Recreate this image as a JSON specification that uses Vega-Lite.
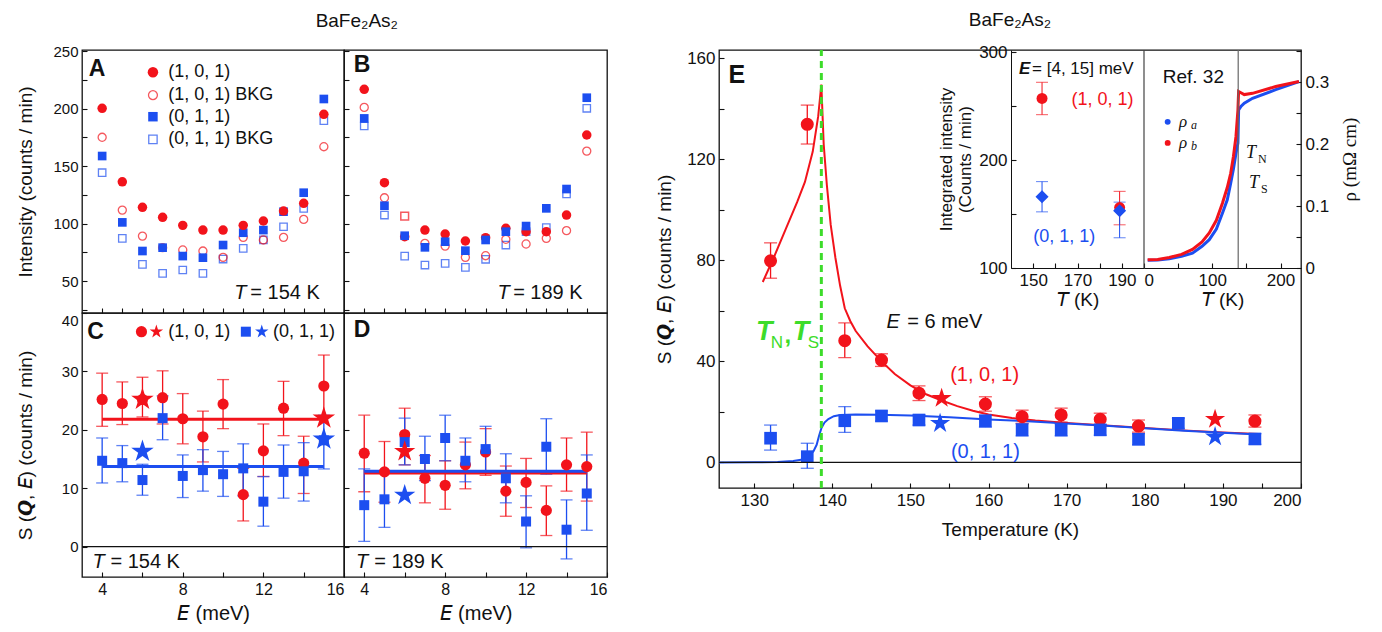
{
"$schema": "https://vega.github.io/schema/vega-lite/v6.json",
"background": "white",
"padding": {"left": 15, "top": 10, "right": 5, "bottom": 5},
"config": {
  "font": "Liberation Sans",
  "view": {"stroke": "#111", "strokeWidth": 1.3},
  "axis": {"grid": false, "domain": false, "labelOverlap": false, "tickColor": "#111", "tickSize": -5, "tickWidth": 1.1, "labelColor": "#111", "labelFont": "Liberation Sans", "labelFontSize": 15, "titleFont": "Liberation Sans", "titleFontWeight": "normal", "titleFontSize": 19, "titleColor": "#111", "labelPadding": 9},
  "title": {"font": "Liberation Sans", "fontWeight": "normal", "fontSize": 19, "color": "#111"}
},
"datasets": {
  "A": [
    {"E":4,"s":"r","v":200.2},{"E":5,"s":"r","v":136.3},{"E":6,"s":"r","v":114.1},{"E":7,"s":"r","v":105.4},{"E":8,"s":"r","v":98.4},{"E":9,"s":"r","v":94.3},{"E":10,"s":"r","v":94.3},{"E":11,"s":"r","v":98.4},{"E":12,"s":"r","v":102.2},{"E":13,"s":"r","v":110.9},{"E":14,"s":"r","v":117.6},{"E":15,"s":"r","v":195},
    {"E":4,"s":"rb","v":175},{"E":5,"s":"rb","v":111.7},{"E":6,"s":"rb","v":89.1},{"E":7,"s":"rb","v":79},{"E":8,"s":"rb","v":77},{"E":9,"s":"rb","v":76.1},{"E":10,"s":"rb","v":70.6},{"E":11,"s":"rb","v":88},{"E":12,"s":"rb","v":85.7},{"E":13,"s":"rb","v":88},{"E":14,"s":"rb","v":103.6},{"E":15,"s":"rb","v":166.8},
    {"E":4,"s":"b","v":158.7},{"E":5,"s":"b","v":101},{"E":6,"s":"b","v":76.1},{"E":7,"s":"b","v":79},{"E":8,"s":"b","v":71.7},{"E":9,"s":"b","v":70.3},{"E":10,"s":"b","v":81.3},{"E":11,"s":"b","v":92},{"E":12,"s":"b","v":94.3},{"E":13,"s":"b","v":110.3},{"E":14,"s":"b","v":126.8},{"E":15,"s":"b","v":208.3},
    {"E":4,"s":"bb","v":144.2},{"E":5,"s":"bb","v":87.1},{"E":6,"s":"bb","v":64.5},{"E":7,"s":"bb","v":56.7},{"E":8,"s":"bb","v":59.6},{"E":9,"s":"bb","v":56.7},{"E":10,"s":"bb","v":69.1},{"E":11,"s":"bb","v":78.4},{"E":12,"s":"bb","v":85.7},{"E":13,"s":"bb","v":97.2},{"E":14,"s":"bb","v":113.2},{"E":15,"s":"bb","v":189.4}
  ],
  "B": [
    {"E":4,"s":"r","v":216.7},{"E":5,"s":"r","v":135.5},{"E":6,"s":"r","v":88.6},{"E":7,"s":"r","v":94.3},{"E":8,"s":"r","v":90.9},{"E":9,"s":"r","v":84.8},{"E":10,"s":"r","v":87.7},{"E":11,"s":"r","v":95.8},{"E":12,"s":"r","v":92.9},{"E":13,"s":"r","v":92.9},{"E":14,"s":"r","v":107.4},{"E":15,"s":"r","v":177},
    {"E":4,"s":"rb","v":201},{"E":5,"s":"rb","v":122.4},{"E":6,"s":"rb","v":106.5},{"E":7,"s":"rb","v":82.8},{"E":8,"s":"rb","v":80.4},{"E":9,"s":"rb","v":70.6},{"E":10,"s":"rb","v":72},{"E":11,"s":"rb","v":86.3},{"E":12,"s":"rb","v":82.2},{"E":13,"s":"rb","v":87.1},{"E":14,"s":"rb","v":93.8},{"E":15,"s":"rb","v":163},
    {"E":4,"s":"b","v":191.4},{"E":5,"s":"b","v":115.5},{"E":6,"s":"b","v":89.4},{"E":7,"s":"b","v":79.3},{"E":8,"s":"b","v":84.2},{"E":9,"s":"b","v":76.4},{"E":10,"s":"b","v":85.7},{"E":11,"s":"b","v":92.9},{"E":12,"s":"b","v":97.8},{"E":13,"s":"b","v":113.2},{"E":14,"s":"b","v":130},{"E":15,"s":"b","v":209.4},
    {"E":4,"s":"bb","v":184.8},{"E":5,"s":"bb","v":107.4},{"E":6,"s":"bb","v":71.7},{"E":7,"s":"bb","v":63.9},{"E":8,"s":"bb","v":65.4},{"E":9,"s":"bb","v":61.9},{"E":10,"s":"bb","v":68.9},{"E":11,"s":"bb","v":81.3},{"E":12,"s":"bb","v":92.9},{"E":13,"s":"bb","v":96.4},{"E":14,"s":"bb","v":125.7},{"E":15,"s":"bb","v":200.2}
  ],
  "C": [
    {"E":4,"s":"r","v":25.2,"lo":20.6,"hi":29.7},{"E":5,"s":"r","v":24.5,"lo":20.9,"hi":28.2},{"E":6,"s":"r","v":25.2,"lo":22.2,"hi":29.0},{"E":7,"s":"r","v":25.5,"lo":21.0,"hi":30.1},{"E":8,"s":"r","v":21.9,"lo":17.6,"hi":26.2},{"E":9,"s":"r","v":18.8,"lo":14.5,"hi":23.2},{"E":10,"s":"r","v":24.4,"lo":20.2,"hi":28.6},{"E":11,"s":"r","v":8.9,"lo":4.4,"hi":13.4},{"E":12,"s":"r","v":16.4,"lo":12.0,"hi":21.0},{"E":13,"s":"r","v":23.7,"lo":19.0,"hi":28.3},{"E":14,"s":"r","v":14.3,"lo":9.1,"hi":18.9},{"E":15,"s":"r","v":27.5,"lo":22.4,"hi":32.8},
    {"E":4,"s":"b","v":14.7,"lo":10.9,"hi":18.6},{"E":5,"s":"b","v":14.3,"lo":11.1,"hi":17.3},{"E":6,"s":"b","v":11.4,"lo":8.8,"hi":14.1},{"E":7,"s":"b","v":22.0,"lo":18.3,"hi":25.8},{"E":8,"s":"b","v":12.1,"lo":8.4,"hi":15.7},{"E":9,"s":"b","v":13.1,"lo":9.5,"hi":16.6},{"E":10,"s":"b","v":12.4,"lo":8.6,"hi":16.3},{"E":11,"s":"b","v":13.4,"lo":8.7,"hi":17.6},{"E":12,"s":"b","v":7.7,"lo":3.5,"hi":12.0},{"E":13,"s":"b","v":12.8,"lo":8.3,"hi":17.4},{"E":14,"s":"b","v":12.9,"lo":7.8,"hi":17.8},{"E":15,"s":"b","v":18.2,"lo":13.3,"hi":22.5}
  ],
  "Cs": [{"E":6,"s":"r","v":25.2},{"E":15,"s":"r","v":22.0},{"E":6,"s":"b","v":16.3},{"E":15,"s":"b","v":18.4}],
  "Cl": [{"E":4,"s":"r","v":21.8},{"E":15,"s":"r","v":21.8},{"E":4,"s":"b","v":13.7},{"E":15,"s":"b","v":13.7}],
  "D": [
    {"E":4,"s":"r","v":16.0,"lo":9.4,"hi":22.5},{"E":5,"s":"r","v":12.8,"lo":7.6,"hi":18.0},{"E":6,"s":"r","v":19.2,"lo":14.0,"hi":23.7},{"E":7,"s":"r","v":11.7,"lo":7.5,"hi":15.6},{"E":8,"s":"r","v":10.5,"lo":6.4,"hi":14.7},{"E":9,"s":"r","v":14.0,"lo":9.9,"hi":17.9},{"E":10,"s":"r","v":16.2,"lo":12.2,"hi":20.2},{"E":11,"s":"r","v":9.5,"lo":5.2,"hi":13.8},{"E":12,"s":"r","v":11.0,"lo":6.7,"hi":15.1},{"E":13,"s":"r","v":6.2,"lo":1.9,"hi":10.4},{"E":14,"s":"r","v":14.0,"lo":9.5,"hi":18.6},{"E":15,"s":"r","v":13.7,"lo":7.8,"hi":19.6},
    {"E":4,"s":"b","v":7.1,"lo":0.9,"hi":13.3},{"E":5,"s":"b","v":8.1,"lo":3.3,"hi":12.8},{"E":6,"s":"b","v":17.9,"lo":14.0,"hi":22.0},{"E":7,"s":"b","v":15.0,"lo":11.3,"hi":18.9},{"E":8,"s":"b","v":18.6,"lo":14.7,"hi":22.5},{"E":9,"s":"b","v":14.7,"lo":11.1,"hi":18.6},{"E":10,"s":"b","v":16.7,"lo":12.7,"hi":20.6},{"E":11,"s":"b","v":11.7,"lo":7.5,"hi":15.9},{"E":12,"s":"b","v":4.3,"lo":-0.2,"hi":8.7},{"E":13,"s":"b","v":17.1,"lo":12.4,"hi":21.9},{"E":14,"s":"b","v":2.9,"lo":-2.1,"hi":8.0},{"E":15,"s":"b","v":9.1,"lo":2.8,"hi":15.7}
  ],
  "Ds": [{"E":6,"s":"r","v":16.3},{"E":6,"s":"b","v":8.8}],
  "Dl": [{"E":4,"s":"r","v":12.6},{"E":15,"s":"r","v":12.6},{"E":4,"s":"b","v":12.9},{"E":15,"s":"b","v":12.9}],
  "E": [
    {"T":132.1,"s":"r","v":79.8,"lo":72.9,"hi":86.9},{"T":136.8,"s":"r","v":133.8,"lo":126.0,"hi":141.4},{"T":141.6,"s":"r","v":48.2,"lo":41.5,"hi":55.2},{"T":146.3,"s":"r","v":40.5,"lo":38.0,"hi":43.0},{"T":151.1,"s":"r","v":27.4,"lo":24.5,"hi":30.3},{"T":159.6,"s":"r","v":23.1,"lo":20.3,"hi":26.0},{"T":164.3,"s":"r","v":18.1,"lo":15.5,"hi":20.7},{"T":169.3,"s":"r","v":18.8,"lo":16.0,"hi":21.5},{"T":174.3,"s":"r","v":17.1,"lo":14.7,"hi":19.5},{"T":179.2,"s":"r","v":14.4,"lo":12.0,"hi":16.8},{"T":194.1,"s":"r","v":16.4,"lo":14.0,"hi":18.8},
    {"T":132.1,"s":"b","v":9.6,"lo":4.9,"hi":14.8},{"T":136.8,"s":"b","v":2.3,"lo":-2.3,"hi":7.6},{"T":141.6,"s":"b","v":16.5,"lo":11.9,"hi":22.1},{"T":146.3,"s":"b","v":18.4,"lo":16.4,"hi":20.4},{"T":151.1,"s":"b","v":16.8,"lo":14.8,"hi":18.8},{"T":159.6,"s":"b","v":16.4,"lo":14.0,"hi":18.8},{"T":164.3,"s":"b","v":12.9,"lo":10.5,"hi":15.3},{"T":169.3,"s":"b","v":12.9,"lo":10.5,"hi":15.3},{"T":174.3,"s":"b","v":12.9,"lo":10.8,"hi":15.0},{"T":179.2,"s":"b","v":9.2,"lo":7.0,"hi":11.4},{"T":184.3,"s":"b","v":15.5,"lo":13.5,"hi":17.5},{"T":194.1,"s":"b","v":9.3,"lo":7.2,"hi":11.4}
  ],
  "Es": [{"T":154.0,"s":"r","v":25.4},{"T":189.0,"s":"r","v":17.1},{"T":153.8,"s":"b","v":15.5},{"T":189.0,"s":"b","v":10.2}],
  "Ef": [
    {"T":131.1,"s":"r","v":71.4},{"T":132.5,"s":"r","v":81},{"T":134,"s":"r","v":92},{"T":135.5,"s":"r","v":103},{"T":136.5,"s":"r","v":111},{"T":137.5,"s":"r","v":123},{"T":138.2,"s":"r","v":137},{"T":138.6,"s":"r","v":149.5},{"T":138.9,"s":"r","v":126},{"T":139.3,"s":"r","v":110},{"T":139.8,"s":"r","v":94},{"T":140.4,"s":"r","v":81},{"T":141,"s":"r","v":70},{"T":141.6,"s":"r","v":61},{"T":142.3,"s":"r","v":56},{"T":143,"s":"r","v":52},{"T":144.5,"s":"r","v":46},{"T":146.3,"s":"r","v":40},{"T":148,"s":"r","v":35},{"T":150,"s":"r","v":30.5},{"T":152,"s":"r","v":27},{"T":154,"s":"r","v":24.5},{"T":156,"s":"r","v":22.3},{"T":158,"s":"r","v":20.5},{"T":160,"s":"r","v":19},{"T":163,"s":"r","v":17.6},{"T":166,"s":"r","v":16.6},{"T":170,"s":"r","v":15.6},{"T":175,"s":"r","v":14.6},{"T":180,"s":"r","v":13.6},{"T":185,"s":"r","v":12.7},{"T":190,"s":"r","v":11.9},{"T":194.6,"s":"r","v":11.3},
    {"T":125.5,"s":"b","v":0},{"T":130,"s":"b","v":0.05},{"T":133,"s":"b","v":0.2},{"T":135,"s":"b","v":0.6},{"T":136.2,"s":"b","v":1.2},{"T":137,"s":"b","v":2.5},{"T":137.6,"s":"b","v":4.5},{"T":138,"s":"b","v":7},{"T":138.3,"s":"b","v":10.5},{"T":138.6,"s":"b","v":13.5},{"T":139,"s":"b","v":15.8},{"T":139.5,"s":"b","v":17.2},{"T":140.2,"s":"b","v":18.3},{"T":141,"s":"b","v":18.8},{"T":143,"s":"b","v":19},{"T":146,"s":"b","v":18.9},{"T":150,"s":"b","v":18.6},{"T":155,"s":"b","v":17.9},{"T":160,"s":"b","v":17},{"T":165,"s":"b","v":16.3},{"T":170,"s":"b","v":15.4},{"T":175,"s":"b","v":14.5},{"T":180,"s":"b","v":13.5},{"T":185,"s":"b","v":12.6},{"T":190,"s":"b","v":11.8},{"T":194.6,"s":"b","v":11.1}
  ],
  "I": [
    {"T":154,"s":"r","v":257,"lo":242,"hi":272},{"T":189,"s":"r","v":156,"lo":140,"hi":171},
    {"T":154,"s":"b","v":166,"lo":152,"hi":180},{"T":189,"s":"b","v":153,"lo":128,"hi":161}
  ],
  "R": [
    {"T":5.4,"s":"b","rho":0.0124},{"T":20,"s":"b","rho":0.013},{"T":37,"s":"b","rho":0.015},{"T":55,"s":"b","rho":0.019},{"T":71,"s":"b","rho":0.024},{"T":85,"s":"b","rho":0.035},{"T":95.6,"s":"b","rho":0.0457},{"T":106,"s":"b","rho":0.063},{"T":115,"s":"b","rho":0.0887},{"T":122,"s":"b","rho":0.11},{"T":127,"s":"b","rho":0.137},{"T":131,"s":"b","rho":0.16},{"T":134.7,"s":"b","rho":0.185},{"T":137.6,"s":"b","rho":0.2016},{"T":138.6,"s":"b","rho":0.255},{"T":142,"s":"b","rho":0.261},{"T":146.9,"s":"b","rho":0.266},{"T":159,"s":"b","rho":0.274},{"T":193,"s":"b","rho":0.288},{"T":227,"s":"b","rho":0.301},
    {"T":5.4,"s":"r","rho":0.0134},{"T":20,"s":"r","rho":0.0138},{"T":37,"s":"r","rho":0.017},{"T":55,"s":"r","rho":0.022},{"T":71,"s":"r","rho":0.03},{"T":85,"s":"r","rho":0.042},{"T":95.6,"s":"r","rho":0.0565},{"T":106,"s":"r","rho":0.077},{"T":115,"s":"r","rho":0.105},{"T":122,"s":"r","rho":0.13},{"T":127,"s":"r","rho":0.153},{"T":131,"s":"r","rho":0.18},{"T":134.7,"s":"r","rho":0.212},{"T":137.6,"s":"r","rho":0.255},{"T":138.6,"s":"r","rho":0.285},{"T":142,"s":"r","rho":0.283},{"T":146.9,"s":"r","rho":0.28},{"T":159,"s":"r","rho":0.282},{"T":193,"s":"r","rho":0.293},{"T":227,"s":"r","rho":0.301}
  ]
},
"spacing": 45,
"hconcat": [
 {
  "title": {"text": "BaFe₂As₂", "anchor": "middle", "frame": "bounds", "dx": 45, "offset": 12},
  "columns": 2,
  "spacing": 0,
  "bounds": "flush",
  "concat": [
   {
    "width": 262, "height": 263,
    "resolve": {"axis": {"x": "independent", "y": "independent"}},
    "layer": [
     {
      "data": {"name": "A"},
      "encoding": {
        "x": {"field": "E", "type": "quantitative", "scale": {"domain": [3, 16], "nice": false, "zero": false}, "axis": {"orient": "bottom", "values": [4,5,6,7,8,9,10,11,12,13,14,15], "labels": false, "title": null}},
        "y": {"field": "v", "type": "quantitative", "scale": {"domain": [22.2, 250.9], "nice": false, "zero": false}, "axis": {"orient": "left", "values": [25,50,75,100,125,150,175,200,225,250], "labelExpr": "datum.value % 50 === 0 ? datum.label : ''", "labelOverlap": false, "title": "Intensity (counts / min)", "minExtent": 30, "maxExtent": 30, "titlePadding": 17}}
      },
      "layer": [
        {"transform": [{"filter": "datum.s === 'bb'"}], "mark": {"type": "point", "shape": "square", "filled": false, "color": "#1c4ef0", "strokeWidth": 1.3, "size": 55}},
        {"transform": [{"filter": "datum.s === 'rb'"}], "mark": {"type": "point", "shape": "circle", "filled": false, "color": "#f2131b", "strokeWidth": 1.3, "size": 65}},
        {"transform": [{"filter": "datum.s === 'b'"}], "mark": {"type": "point", "shape": "square", "filled": true, "color": "#1c4ef0", "opacity": 1, "size": 75}},
        {"transform": [{"filter": "datum.s === 'r'"}], "mark": {"type": "point", "shape": "circle", "filled": true, "color": "#f2131b", "opacity": 1, "size": 90}}
      ]
     },
     {
      "layer": [
        {"data": {"values": [{"k": 1}]}, "mark": {"type": "point", "shape": "circle", "filled": true, "color": "#f2131b", "opacity": 1, "size": 110}, "encoding": {"x": {"datum": 6.52, "type": "quantitative", "axis": null}, "y": {"datum": 231.5, "type": "quantitative", "axis": null}}},
        {"data": {"values": [{"k": 1}]}, "mark": {"type": "point", "shape": "circle", "filled": false, "color": "#f2131b", "strokeWidth": 1.3, "size": 80}, "encoding": {"x": {"datum": 6.52, "type": "quantitative", "axis": null}, "y": {"datum": 211.7, "type": "quantitative", "axis": null}}},
        {"data": {"values": [{"k": 1}]}, "mark": {"type": "point", "shape": "square", "filled": true, "color": "#1c4ef0", "opacity": 1, "size": 90}, "encoding": {"x": {"datum": 6.52, "type": "quantitative", "axis": null}, "y": {"datum": 192.9, "type": "quantitative", "axis": null}}},
        {"data": {"values": [{"k": 1}]}, "mark": {"type": "point", "shape": "square", "filled": false, "color": "#1c4ef0", "strokeWidth": 1.3, "size": 70}, "encoding": {"x": {"datum": 6.52, "type": "quantitative", "axis": null}, "y": {"datum": 173.2, "type": "quantitative", "axis": null}}},
        {"data": {"values": [{"k": 1}]}, "mark": {"type": "text", "text": "(1, 0, 1)", "fontSize": 18, "align": "left", "baseline": "middle", "color": "#111"}, "encoding": {"x": {"datum": 7.28, "type": "quantitative", "axis": null}, "y": {"datum": 231.5, "type": "quantitative", "axis": null}}},
        {"data": {"values": [{"k": 1}]}, "mark": {"type": "text", "text": "(1, 0, 1) BKG", "fontSize": 18, "align": "left", "baseline": "middle", "color": "#111"}, "encoding": {"x": {"datum": 7.28, "type": "quantitative", "axis": null}, "y": {"datum": 211.7, "type": "quantitative", "axis": null}}},
        {"data": {"values": [{"k": 1}]}, "mark": {"type": "text", "text": "(0, 1, 1)", "fontSize": 18, "align": "left", "baseline": "middle", "color": "#111"}, "encoding": {"x": {"datum": 7.28, "type": "quantitative", "axis": null}, "y": {"datum": 192.9, "type": "quantitative", "axis": null}}},
        {"data": {"values": [{"k": 1}]}, "mark": {"type": "text", "text": "(0, 1, 1) BKG", "fontSize": 18, "align": "left", "baseline": "middle", "color": "#111"}, "encoding": {"x": {"datum": 7.28, "type": "quantitative", "axis": null}, "y": {"datum": 173.2, "type": "quantitative", "axis": null}}},
        {"data": {"values": [{"k": 1}]}, "mark": {"type": "text", "text": "A", "fontSize": 23, "fontWeight": "bold", "align": "center", "baseline": "middle", "color": "#111"}, "encoding": {"x": {"datum": 3.75, "type": "quantitative", "axis": null}, "y": {"datum": 234.3, "type": "quantitative", "axis": null}}},
        {"data": {"values": [{"k": 1}]}, "mark": {"type": "text", "text": "T", "fontSize": 20, "fontStyle": "italic", "align": "center", "baseline": "middle", "color": "#111"}, "encoding": {"x": {"datum": 10.86, "type": "quantitative", "axis": null}, "y": {"datum": 39.6, "type": "quantitative", "axis": null}}},
        {"data": {"values": [{"k": 1}]}, "mark": {"type": "text", "text": "= 154 K", "fontSize": 20, "align": "left", "baseline": "middle", "color": "#111"}, "encoding": {"x": {"datum": 11.35, "type": "quantitative", "axis": null}, "y": {"datum": 39.6, "type": "quantitative", "axis": null}}}
      ]
     }
    ]
   },
   {
    "width": 263, "height": 263,
    "resolve": {"axis": {"x": "independent", "y": "independent"}},
    "layer": [
     {
      "data": {"name": "B"},
      "encoding": {
        "x": {"field": "E", "type": "quantitative", "scale": {"domain": [3, 16], "nice": false, "zero": false}, "axis": {"orient": "bottom", "values": [4,5,6,7,8,9,10,11,12,13,14,15], "labels": false, "title": null}},
        "y": {"field": "v", "type": "quantitative", "scale": {"domain": [22.2, 250.9], "nice": false, "zero": false}, "axis": {"orient": "left", "values": [25,50,75,100,125,150,175,200,225,250], "labels": false, "title": null}}
      },
      "layer": [
        {"transform": [{"filter": "datum.s === 'bb'"}], "mark": {"type": "point", "shape": "square", "filled": false, "color": "#1c4ef0", "strokeWidth": 1.3, "size": 55}},
        {"transform": [{"filter": "datum.s === 'rb' && datum.E !== 6"}], "mark": {"type": "point", "shape": "circle", "filled": false, "color": "#f2131b", "strokeWidth": 1.3, "size": 65}},
        {"transform": [{"filter": "datum.s === 'rb' && datum.E === 6"}], "mark": {"type": "point", "shape": "square", "filled": false, "color": "#f2131b", "strokeWidth": 1.5, "size": 60}},
        {"transform": [{"filter": "datum.s === 'r'"}], "mark": {"type": "point", "shape": "circle", "filled": true, "color": "#f2131b", "opacity": 1, "size": 90}},
        {"transform": [{"filter": "datum.s === 'b'"}], "mark": {"type": "point", "shape": "square", "filled": true, "color": "#1c4ef0", "opacity": 1, "size": 75}}
      ]
     },
     {
      "layer": [
        {"data": {"values": [{"k": 1}]}, "mark": {"type": "text", "text": "B", "fontSize": 23, "fontWeight": "bold", "align": "center", "baseline": "middle", "color": "#111"}, "encoding": {"x": {"datum": 3.89, "type": "quantitative", "axis": null}, "y": {"datum": 237.8, "type": "quantitative", "axis": null}}},
        {"data": {"values": [{"k": 1}]}, "mark": {"type": "text", "text": "T", "fontSize": 20, "fontStyle": "italic", "align": "center", "baseline": "middle", "color": "#111"}, "encoding": {"x": {"datum": 10.89, "type": "quantitative", "axis": null}, "y": {"datum": 39.6, "type": "quantitative", "axis": null}}},
        {"data": {"values": [{"k": 1}]}, "mark": {"type": "text", "text": "= 189 K", "fontSize": 20, "align": "left", "baseline": "middle", "color": "#111"}, "encoding": {"x": {"datum": 11.36, "type": "quantitative", "axis": null}, "y": {"datum": 39.6, "type": "quantitative", "axis": null}}}
      ]
     }
    ]
   },
   {
    "width": 262, "height": 264,
    "layer": [
     {
      "data": {"name": "C"},
      "encoding": {
        "x": {"field": "E", "type": "quantitative", "scale": {"domain": [3, 16], "nice": false, "zero": false}, "axis": {"values": [4,5,6,7,8,9,10,11,12,13,14,15,16], "labelExpr": "datum.value % 4 === 0 ? datum.label : ''", "labelFlush": 1, "labelFontSize": 16, "title": "𝘌 (meV)", "titleFontSize": 20, "titlePadding": 6}},
        "y": {"field": "v", "type": "quantitative", "scale": {"domain": [-5.2, 40], "nice": false, "zero": false}, "axis": {"values": [0,5,10,15,20,25,30,35,40], "labelExpr": "datum.value % 10 === 0 ? datum.label : ''", "labelFlush": 1, "title": "S (𝙌, 𝘌) (counts / min)", "minExtent": 30, "maxExtent": 30, "titlePadding": 17}}
      },
      "layer": [
        {"transform": [{"filter": "datum.s === 'r'"}], "mark": {"type": "rule", "color": "#f2131b", "strokeWidth": 1.3}, "encoding": {"y": {"field": "lo", "type": "quantitative"}, "y2": {"field": "hi"}}},
        {"transform": [{"filter": "datum.s === 'r'"}, {"fold": ["lo", "hi"], "as": ["k", "cap"]}], "mark": {"type": "tick", "orient": "horizontal", "color": "#f2131b", "size": 12, "thickness": 1.3}, "encoding": {"y": {"field": "cap", "type": "quantitative"}}},
        {"transform": [{"filter": "datum.s === 'b'"}], "mark": {"type": "rule", "color": "#1c4ef0", "strokeWidth": 1.3}, "encoding": {"y": {"field": "lo", "type": "quantitative"}, "y2": {"field": "hi"}}},
        {"transform": [{"filter": "datum.s === 'b'"}, {"fold": ["lo", "hi"], "as": ["k", "cap"]}], "mark": {"type": "tick", "orient": "horizontal", "color": "#1c4ef0", "size": 12, "thickness": 1.3}, "encoding": {"y": {"field": "cap", "type": "quantitative"}}},
        {"data": {"name": "Cl"}, "transform": [{"filter": "datum.s === 'r'"}], "mark": {"type": "line", "color": "#f2131b", "strokeWidth": 3}},
        {"data": {"name": "Cl"}, "transform": [{"filter": "datum.s === 'b'"}], "mark": {"type": "line", "color": "#1c4ef0", "strokeWidth": 3}},
        {"transform": [{"filter": "datum.s === 'r'"}], "mark": {"type": "point", "shape": "circle", "filled": true, "color": "#f2131b", "opacity": 1, "size": 125}},
        {"transform": [{"filter": "datum.s === 'b'"}], "mark": {"type": "point", "shape": "square", "filled": true, "color": "#1c4ef0", "opacity": 1, "size": 100}},
        {"data": {"name": "Cs"}, "transform": [{"filter": "datum.s === 'r'"}], "mark": {"type": "point", "shape": "M0,-1L0.2245,-0.309L0.951,-0.309L0.363,0.118L0.588,0.809L0,0.382L-0.588,0.809L-0.363,0.118L-0.951,-0.309L-0.2245,-0.309Z", "filled": true, "color": "#f2131b", "opacity": 1, "size": 560}},
        {"data": {"name": "Cs"}, "transform": [{"filter": "datum.s === 'b'"}], "mark": {"type": "point", "shape": "M0,-1L0.2245,-0.309L0.951,-0.309L0.363,0.118L0.588,0.809L0,0.382L-0.588,0.809L-0.363,0.118L-0.951,-0.309L-0.2245,-0.309Z", "filled": true, "color": "#1c4ef0", "opacity": 1, "size": 560}}
      ]
     },
     {
      "layer": [
        {"data": {"values": [{"k": 1}]}, "mark": {"type": "rule", "color": "#111", "strokeWidth": 1.2}, "encoding": {"x": {"datum": 3, "type": "quantitative"}, "x2": {"datum": 16}, "y": {"datum": 0, "type": "quantitative"}}},
        {"data": {"values": [{"k": 1}]}, "mark": {"type": "point", "shape": "circle", "filled": true, "color": "#f2131b", "opacity": 1, "size": 125}, "encoding": {"x": {"datum": 5.95, "type": "quantitative"}, "y": {"datum": 36.8, "type": "quantitative"}}},
        {"data": {"values": [{"k": 1}]}, "mark": {"type": "point", "shape": "M0,-1L0.2245,-0.309L0.951,-0.309L0.363,0.118L0.588,0.809L0,0.382L-0.588,0.809L-0.363,0.118L-0.951,-0.309L-0.2245,-0.309Z", "filled": true, "color": "#f2131b", "opacity": 1, "size": 200}, "encoding": {"x": {"datum": 6.69, "type": "quantitative"}, "y": {"datum": 36.8, "type": "quantitative"}}},
        {"data": {"values": [{"k": 1}]}, "mark": {"type": "text", "text": "(1, 0, 1)", "fontSize": 18, "align": "left", "baseline": "middle", "color": "#111"}, "encoding": {"x": {"datum": 7.28, "type": "quantitative"}, "y": {"datum": 36.8, "type": "quantitative"}}},
        {"data": {"values": [{"k": 1}]}, "mark": {"type": "point", "shape": "square", "filled": true, "color": "#1c4ef0", "opacity": 1, "size": 100}, "encoding": {"x": {"datum": 11.13, "type": "quantitative"}, "y": {"datum": 36.8, "type": "quantitative"}}},
        {"data": {"values": [{"k": 1}]}, "mark": {"type": "point", "shape": "M0,-1L0.2245,-0.309L0.951,-0.309L0.363,0.118L0.588,0.809L0,0.382L-0.588,0.809L-0.363,0.118L-0.951,-0.309L-0.2245,-0.309Z", "filled": true, "color": "#1c4ef0", "opacity": 1, "size": 200}, "encoding": {"x": {"datum": 11.92, "type": "quantitative"}, "y": {"datum": 36.8, "type": "quantitative"}}},
        {"data": {"values": [{"k": 1}]}, "mark": {"type": "text", "text": "(0, 1, 1)", "fontSize": 18, "align": "left", "baseline": "middle", "color": "#111"}, "encoding": {"x": {"datum": 12.48, "type": "quantitative"}, "y": {"datum": 36.8, "type": "quantitative"}}},
        {"data": {"values": [{"k": 1}]}, "mark": {"type": "text", "text": "C", "fontSize": 23, "fontWeight": "bold", "align": "center", "baseline": "middle", "color": "#111"}, "encoding": {"x": {"datum": 3.67, "type": "quantitative"}, "y": {"datum": 36.7, "type": "quantitative"}}},
        {"data": {"values": [{"k": 1}]}, "mark": {"type": "text", "text": "T", "fontSize": 20, "fontStyle": "italic", "align": "center", "baseline": "middle", "color": "#111"}, "encoding": {"x": {"datum": 3.82, "type": "quantitative"}, "y": {"datum": -2.6, "type": "quantitative"}}},
        {"data": {"values": [{"k": 1}]}, "mark": {"type": "text", "text": "= 154 K", "fontSize": 20, "align": "left", "baseline": "middle", "color": "#111"}, "encoding": {"x": {"datum": 4.41, "type": "quantitative"}, "y": {"datum": -2.6, "type": "quantitative"}}}
      ]
     }
    ]
   },
   {
    "width": 263, "height": 264,
    "layer": [
     {
      "data": {"name": "D"},
      "encoding": {
        "x": {"field": "E", "type": "quantitative", "scale": {"domain": [3, 16], "nice": false, "zero": false}, "axis": {"values": [4,5,6,7,8,9,10,11,12,13,14,15,16], "labelExpr": "datum.value % 4 === 0 ? datum.label : ''", "labelFlush": 1, "labelFontSize": 16, "title": "𝘌 (meV)", "titleFontSize": 20, "titlePadding": 6}},
        "y": {"field": "v", "type": "quantitative", "scale": {"domain": [-5.2, 40], "nice": false, "zero": false}, "axis": {"values": [0,5,10,15,20,25,30,35,40], "labels": false, "title": null}}
      },
      "layer": [
        {"transform": [{"filter": "datum.s === 'r'"}], "mark": {"type": "rule", "color": "#f2131b", "strokeWidth": 1.3}, "encoding": {"y": {"field": "lo", "type": "quantitative"}, "y2": {"field": "hi"}}},
        {"transform": [{"filter": "datum.s === 'r'"}, {"fold": ["lo", "hi"], "as": ["k", "cap"]}], "mark": {"type": "tick", "orient": "horizontal", "color": "#f2131b", "size": 12, "thickness": 1.3}, "encoding": {"y": {"field": "cap", "type": "quantitative"}}},
        {"transform": [{"filter": "datum.s === 'b'"}], "mark": {"type": "rule", "color": "#1c4ef0", "strokeWidth": 1.3}, "encoding": {"y": {"field": "lo", "type": "quantitative"}, "y2": {"field": "hi"}}},
        {"transform": [{"filter": "datum.s === 'b'"}, {"fold": ["lo", "hi"], "as": ["k", "cap"]}], "mark": {"type": "tick", "orient": "horizontal", "color": "#1c4ef0", "size": 12, "thickness": 1.3}, "encoding": {"y": {"field": "cap", "type": "quantitative"}}},
        {"data": {"name": "Dl"}, "transform": [{"filter": "datum.s === 'r'"}], "mark": {"type": "line", "color": "#f2131b", "strokeWidth": 3}},
        {"data": {"name": "Dl"}, "transform": [{"filter": "datum.s === 'b'"}], "mark": {"type": "line", "color": "#1c4ef0", "strokeWidth": 3}},
        {"transform": [{"filter": "datum.s === 'r'"}], "mark": {"type": "point", "shape": "circle", "filled": true, "color": "#f2131b", "opacity": 1, "size": 125}},
        {"transform": [{"filter": "datum.s === 'b'"}], "mark": {"type": "point", "shape": "square", "filled": true, "color": "#1c4ef0", "opacity": 1, "size": 100}},
        {"data": {"name": "Ds"}, "transform": [{"filter": "datum.s === 'r'"}], "mark": {"type": "point", "shape": "M0,-1L0.2245,-0.309L0.951,-0.309L0.363,0.118L0.588,0.809L0,0.382L-0.588,0.809L-0.363,0.118L-0.951,-0.309L-0.2245,-0.309Z", "filled": true, "color": "#f2131b", "opacity": 1, "size": 500}},
        {"data": {"name": "Ds"}, "transform": [{"filter": "datum.s === 'b'"}], "mark": {"type": "point", "shape": "M0,-1L0.2245,-0.309L0.951,-0.309L0.363,0.118L0.588,0.809L0,0.382L-0.588,0.809L-0.363,0.118L-0.951,-0.309L-0.2245,-0.309Z", "filled": true, "color": "#1c4ef0", "opacity": 1, "size": 500}}
      ]
     },
     {
      "layer": [
        {"data": {"values": [{"k": 1}]}, "mark": {"type": "rule", "color": "#111", "strokeWidth": 1.2}, "encoding": {"x": {"datum": 3, "type": "quantitative"}, "x2": {"datum": 16}, "y": {"datum": 0, "type": "quantitative"}}},
        {"data": {"values": [{"k": 1}]}, "mark": {"type": "text", "text": "D", "fontSize": 23, "fontWeight": "bold", "align": "center", "baseline": "middle", "color": "#111"}, "encoding": {"x": {"datum": 3.89, "type": "quantitative"}, "y": {"datum": 37.1, "type": "quantitative"}}},
        {"data": {"values": [{"k": 1}]}, "mark": {"type": "text", "text": "T", "fontSize": 20, "fontStyle": "italic", "align": "center", "baseline": "middle", "color": "#111"}, "encoding": {"x": {"datum": 3.9, "type": "quantitative"}, "y": {"datum": -2.6, "type": "quantitative"}}},
        {"data": {"values": [{"k": 1}]}, "mark": {"type": "text", "text": "= 189 K", "fontSize": 20, "align": "left", "baseline": "middle", "color": "#111"}, "encoding": {"x": {"datum": 4.49, "type": "quantitative"}, "y": {"datum": -2.6, "type": "quantitative"}}}
      ]
     }
    ]
   }
  ]
 },
 {
  "width": 582, "height": 438,
  "title": {"text": "BaFe₂As₂", "anchor": "middle", "frame": "group", "offset": 12},
  "resolve": {"scale": {"x": "independent", "y": "independent"}},
  "layer": [
   {
    "layer": [
     {
      "data": {"name": "E"},
      "encoding": {
        "x": {"field": "T", "type": "quantitative", "scale": {"domain": [125.5, 200], "nice": false, "zero": false}, "axis": {"orient": "bottom", "values": [130,135,140,145,150,155,160,165,170,175,180,185,190,195,200], "labelExpr": "datum.value % 10 === 0 ? datum.label : ''", "title": "Temperature (K)", "labelFontSize": 17, "titleFontSize": 19, "titlePadding": 12}},
        "y": {"field": "v", "type": "quantitative", "scale": {"domain": [-10.1, 163.2], "nice": false, "zero": false}, "axis": {"orient": "left", "values": [0,20,40,60,80,100,120,140,160], "labelExpr": "datum.value % 40 === 0 ? datum.label : ''", "title": "S (𝙌, 𝘌) (counts / min)", "labelFontSize": 17, "titleFontSize": 19, "minExtent": 35, "maxExtent": 35, "titlePadding": 10}}
      },
      "layer": [
        {"data": {"name": "Ef"}, "transform": [{"filter": "datum.s === 'r'"}], "mark": {"type": "line", "color": "#f2131b", "strokeWidth": 2}},
        {"data": {"name": "Ef"}, "transform": [{"filter": "datum.s === 'b'"}], "mark": {"type": "line", "color": "#1c4ef0", "strokeWidth": 2}},
        {"transform": [{"filter": "datum.s === 'r'"}], "mark": {"type": "rule", "color": "#f2131b", "strokeWidth": 1.3}, "encoding": {"y": {"field": "lo", "type": "quantitative"}, "y2": {"field": "hi"}}},
        {"transform": [{"filter": "datum.s === 'r'"}, {"fold": ["lo", "hi"], "as": ["k", "cap"]}], "mark": {"type": "tick", "orient": "horizontal", "color": "#f2131b", "size": 13, "thickness": 1.3}, "encoding": {"y": {"field": "cap", "type": "quantitative"}}},
        {"transform": [{"filter": "datum.s === 'b'"}], "mark": {"type": "rule", "color": "#1c4ef0", "strokeWidth": 1.3}, "encoding": {"y": {"field": "lo", "type": "quantitative"}, "y2": {"field": "hi"}}},
        {"transform": [{"filter": "datum.s === 'b'"}, {"fold": ["lo", "hi"], "as": ["k", "cap"]}], "mark": {"type": "tick", "orient": "horizontal", "color": "#1c4ef0", "size": 13, "thickness": 1.3}, "encoding": {"y": {"field": "cap", "type": "quantitative"}}},
        {"transform": [{"filter": "datum.s === 'r'"}], "mark": {"type": "point", "shape": "circle", "filled": true, "color": "#f2131b", "opacity": 1, "size": 170}},
        {"transform": [{"filter": "datum.s === 'b'"}], "mark": {"type": "point", "shape": "square", "filled": true, "color": "#1c4ef0", "opacity": 1, "size": 160}},
        {"data": {"name": "Es"}, "transform": [{"filter": "datum.s === 'r'"}], "mark": {"type": "point", "shape": "M0,-1L0.2245,-0.309L0.951,-0.309L0.363,0.118L0.588,0.809L0,0.382L-0.588,0.809L-0.363,0.118L-0.951,-0.309L-0.2245,-0.309Z", "filled": true, "color": "#f2131b", "opacity": 1, "size": 450}},
        {"data": {"name": "Es"}, "transform": [{"filter": "datum.s === 'b'"}], "mark": {"type": "point", "shape": "M0,-1L0.2245,-0.309L0.951,-0.309L0.363,0.118L0.588,0.809L0,0.382L-0.588,0.809L-0.363,0.118L-0.951,-0.309L-0.2245,-0.309Z", "filled": true, "color": "#1c4ef0", "opacity": 1, "size": 450}}
      ]
     },
     {
      "layer": [
        {"data": {"values": [{"k": 1}]}, "mark": {"type": "rule", "color": "#111", "strokeWidth": 1.2}, "encoding": {"x": {"datum": 125.5, "type": "quantitative"}, "x2": {"datum": 200}, "y": {"datum": 0, "type": "quantitative"}}},
        {"data": {"values": [{"k": 1}]}, "mark": {"type": "rule", "color": "#3ddc2a", "strokeWidth": 3, "strokeDash": [7, 5]}, "encoding": {"x": {"datum": 138.6, "type": "quantitative"}, "y": {"datum": -10.1, "type": "quantitative"}, "y2": {"datum": 163.2}}},
        {"data": {"values": [{"k": 1}]}, "mark": {"type": "text", "text": "E", "fontSize": 25, "fontWeight": "bold", "align": "center", "baseline": "middle", "color": "#111"}, "encoding": {"x": {"datum": 127.8, "type": "quantitative"}, "y": {"datum": 153.3, "type": "quantitative"}}},
        {"data": {"values": [{"k": 1}]}, "mark": {"type": "text", "text": "T", "fontSize": 27, "fontWeight": "bold", "fontStyle": "italic", "align": "center", "baseline": "middle", "color": "#3ddc2a"}, "encoding": {"x": {"datum": 131.3, "type": "quantitative"}, "y": {"datum": 51.6, "type": "quantitative"}}},
        {"data": {"values": [{"k": 1}]}, "mark": {"type": "text", "text": "N", "fontSize": 17, "align": "center", "baseline": "middle", "color": "#3ddc2a"}, "encoding": {"x": {"datum": 132.9, "type": "quantitative"}, "y": {"datum": 47.3, "type": "quantitative"}}},
        {"data": {"values": [{"k": 1}]}, "mark": {"type": "text", "text": ",", "fontSize": 24, "fontWeight": "bold", "align": "center", "baseline": "middle", "color": "#3ddc2a"}, "encoding": {"x": {"datum": 134.3, "type": "quantitative"}, "y": {"datum": 50, "type": "quantitative"}}},
        {"data": {"values": [{"k": 1}]}, "mark": {"type": "text", "text": "T", "fontSize": 27, "fontWeight": "bold", "fontStyle": "italic", "align": "center", "baseline": "middle", "color": "#3ddc2a"}, "encoding": {"x": {"datum": 136.0, "type": "quantitative"}, "y": {"datum": 51.6, "type": "quantitative"}}},
        {"data": {"values": [{"k": 1}]}, "mark": {"type": "text", "text": "S", "fontSize": 17, "align": "center", "baseline": "middle", "color": "#3ddc2a"}, "encoding": {"x": {"datum": 137.6, "type": "quantitative"}, "y": {"datum": 47.3, "type": "quantitative"}}},
        {"data": {"values": [{"k": 1}]}, "mark": {"type": "text", "text": "E", "fontSize": 20, "fontStyle": "italic", "align": "center", "baseline": "middle", "color": "#111"}, "encoding": {"x": {"datum": 147.8, "type": "quantitative"}, "y": {"datum": 55.7, "type": "quantitative"}}},
        {"data": {"values": [{"k": 1}]}, "mark": {"type": "text", "text": "= 6 meV", "fontSize": 20, "align": "left", "baseline": "middle", "color": "#111"}, "encoding": {"x": {"datum": 149.6, "type": "quantitative"}, "y": {"datum": 55.7, "type": "quantitative"}}},
        {"data": {"values": [{"k": 1}]}, "mark": {"type": "text", "text": "(1, 0, 1)", "fontSize": 20, "align": "center", "baseline": "middle", "color": "#f2131b"}, "encoding": {"x": {"datum": 159.5, "type": "quantitative"}, "y": {"datum": 34.6, "type": "quantitative"}}},
        {"data": {"values": [{"k": 1}]}, "mark": {"type": "text", "text": "(0, 1, 1)", "fontSize": 20, "align": "center", "baseline": "middle", "color": "#1c4ef0"}, "encoding": {"x": {"datum": 159.6, "type": "quantitative"}, "y": {"datum": 4.2, "type": "quantitative"}}}
      ]
     }
    ]
   },
   {
    "layer": [
     {
      "data": {"name": "I"},
      "encoding": {
        "x": {"field": "T", "type": "quantitative", "scale": {"domain": [140, 200], "range": [292, 425], "nice": false, "zero": false}, "axis": {"orient": "bottom", "offset": -220, "domain": true, "domainColor": "#111", "values": [150,160,170,180,190], "labelExpr": "datum.value % 20 === 10 ? datum.label : ''", "title": "𝘛 (K)", "labelFontSize": 17, "titleFontSize": 19, "titlePadding": 2}},
        "y": {"field": "v", "type": "quantitative", "scale": {"domain": [100, 301.9], "range": [218, 0], "nice": false, "zero": false}, "axis": {"orient": "left", "offset": -292, "domain": true, "domainColor": "#111", "values": [100,150,200,250,300], "labelExpr": "datum.value % 100 === 0 ? datum.label : ''", "title": ["Integrated intensity", "(Counts / min)"], "labelFontSize": 17, "titleFontSize": 17, "titlePadding": 4}}
      },
      "layer": [
        {"transform": [{"filter": "datum.s === 'r'"}], "mark": {"type": "rule", "color": "#f2131b", "strokeWidth": 1}, "encoding": {"y": {"field": "lo", "type": "quantitative"}, "y2": {"field": "hi"}}},
        {"transform": [{"filter": "datum.s === 'r'"}, {"fold": ["lo", "hi"], "as": ["k", "cap"]}], "mark": {"type": "tick", "orient": "horizontal", "color": "#f2131b", "size": 12, "thickness": 1}, "encoding": {"y": {"field": "cap", "type": "quantitative"}}},
        {"transform": [{"filter": "datum.s === 'b'"}], "mark": {"type": "rule", "color": "#1c4ef0", "strokeWidth": 1}, "encoding": {"y": {"field": "lo", "type": "quantitative"}, "y2": {"field": "hi"}}},
        {"transform": [{"filter": "datum.s === 'b'"}, {"fold": ["lo", "hi"], "as": ["k", "cap"]}], "mark": {"type": "tick", "orient": "horizontal", "color": "#1c4ef0", "size": 12, "thickness": 1}, "encoding": {"y": {"field": "cap", "type": "quantitative"}}},
        {"transform": [{"filter": "datum.s === 'r'"}], "mark": {"type": "point", "shape": "circle", "filled": true, "color": "#f2131b", "opacity": 1, "size": 120}},
        {"transform": [{"filter": "datum.s === 'b'"}], "mark": {"type": "point", "shape": "diamond", "filled": true, "color": "#1c4ef0", "opacity": 1, "size": 170}}
      ]
     },
     {
      "layer": [
        {"data": {"values": [{"k": 1}]}, "mark": {"type": "rule", "color": "#444", "strokeWidth": 1.2}, "encoding": {"x": {"datum": 200, "type": "quantitative"}, "y": {"datum": 100, "type": "quantitative"}, "y2": {"datum": 301.9}}},
        {"data": {"values": [{"k": 1}]}, "mark": {"type": "text", "text": "(1, 0, 1)", "fontSize": 18, "align": "center", "baseline": "middle", "color": "#f2131b"}, "encoding": {"x": {"datum": 181.3, "type": "quantitative"}, "y": {"datum": 255.6, "type": "quantitative"}}},
        {"data": {"values": [{"k": 1}]}, "mark": {"type": "text", "text": "(0, 1, 1)", "fontSize": 18, "align": "center", "baseline": "middle", "color": "#1c4ef0"}, "encoding": {"x": {"datum": 164.0, "type": "quantitative"}, "y": {"datum": 129, "type": "quantitative"}}},
        {"data": {"values": [{"k": 1}]}, "mark": {"type": "text", "text": "E", "fontSize": 17, "fontWeight": "bold", "fontStyle": "italic", "align": "left", "baseline": "middle", "color": "#111"}, "encoding": {"x": {"datum": 143.6, "type": "quantitative"}, "y": {"datum": 284.3, "type": "quantitative"}}},
        {"data": {"values": [{"k": 1}]}, "mark": {"type": "text", "text": "= [4, 15] meV", "fontSize": 17, "align": "left", "baseline": "middle", "color": "#111"}, "encoding": {"x": {"datum": 149.5, "type": "quantitative"}, "y": {"datum": 284.3, "type": "quantitative"}}}
      ]
     }
    ]
   },
   {
    "layer": [
     {
      "data": {"name": "R"},
      "encoding": {
        "x": {"field": "T", "type": "quantitative", "scale": {"domain": [0, 230], "range": [425, 582], "nice": false, "zero": false}, "axis": {"orient": "bottom", "offset": -220, "domain": true, "domainColor": "#111", "values": [0,50,100,150,200], "labelExpr": "datum.value % 100 === 0 ? datum.label : ''", "title": "𝘛 (K)", "labelFontSize": 17, "titleFontSize": 19, "titlePadding": 2}},
        "y": {"field": "rho", "type": "quantitative", "scale": {"domain": [0, 0.352], "range": [218, 0], "nice": false, "zero": false}, "axis": {"orient": "right", "offset": 0, "domain": false, "values": [0,0.05,0.1,0.15,0.2,0.25,0.3,0.35], "labelExpr": "abs(datum.value*10 - round(datum.value*10)) < 0.001 ? format(datum.value, '.1~f') : ''", "title": "ρ (mΩ cm)", "titleFont": "Liberation Serif", "titleAngle": 270, "titleBaseline": "top", "labelFontSize": 17, "titleFontSize": 19, "titlePadding": 12}}
      },
      "layer": [
        {"transform": [{"filter": "datum.s === 'b'"}], "mark": {"type": "line", "color": "#1c4ef0", "strokeWidth": 3}},
        {"transform": [{"filter": "datum.s === 'r'"}], "mark": {"type": "line", "color": "#f2131b", "strokeWidth": 3}}
      ]
     },
     {
      "layer": [
        {"data": {"values": [{"k": 1}]}, "mark": {"type": "rule", "color": "#666", "strokeWidth": 1.2}, "encoding": {"x": {"datum": 138, "type": "quantitative"}, "y": {"datum": 0, "type": "quantitative"}, "y2": {"datum": 0.352}}},
        {"data": {"values": [{"k": 1}]}, "mark": {"type": "point", "shape": "circle", "filled": true, "color": "#1c4ef0", "opacity": 1, "size": 35}, "encoding": {"x": {"datum": 34.7, "type": "quantitative"}, "y": {"datum": 0.236, "type": "quantitative"}}},
        {"data": {"values": [{"k": 1}]}, "mark": {"type": "point", "shape": "circle", "filled": true, "color": "#f2131b", "opacity": 1, "size": 35}, "encoding": {"x": {"datum": 34.7, "type": "quantitative"}, "y": {"datum": 0.202, "type": "quantitative"}}},
        {"data": {"values": [{"k": 1}]}, "mark": {"type": "text", "text": "ρ", "font": "Liberation Serif", "fontSize": 17, "fontStyle": "italic", "align": "left", "baseline": "middle", "color": "#111"}, "encoding": {"x": {"datum": 51.2, "type": "quantitative"}, "y": {"datum": 0.236, "type": "quantitative"}}},
        {"data": {"values": [{"k": 1}]}, "mark": {"type": "text", "text": "a", "font": "Liberation Serif", "fontSize": 12, "fontStyle": "italic", "align": "left", "baseline": "middle", "color": "#111", "dx": 12, "dy": 3}, "encoding": {"x": {"datum": 51.2, "type": "quantitative"}, "y": {"datum": 0.236, "type": "quantitative"}}},
        {"data": {"values": [{"k": 1}]}, "mark": {"type": "text", "text": "ρ", "font": "Liberation Serif", "fontSize": 17, "fontStyle": "italic", "align": "left", "baseline": "middle", "color": "#111"}, "encoding": {"x": {"datum": 51.2, "type": "quantitative"}, "y": {"datum": 0.202, "type": "quantitative"}}},
        {"data": {"values": [{"k": 1}]}, "mark": {"type": "text", "text": "b", "font": "Liberation Serif", "fontSize": 12, "fontStyle": "italic", "align": "left", "baseline": "middle", "color": "#111", "dx": 12, "dy": 3}, "encoding": {"x": {"datum": 51.2, "type": "quantitative"}, "y": {"datum": 0.202, "type": "quantitative"}}},
        {"data": {"values": [{"k": 1}]}, "mark": {"type": "text", "text": "Ref. 32", "fontSize": 19, "align": "left", "baseline": "middle", "color": "#111"}, "encoding": {"x": {"datum": 27.4, "type": "quantitative"}, "y": {"datum": 0.309, "type": "quantitative"}}},
        {"data": {"values": [{"k": 1}]}, "mark": {"type": "text", "text": "T", "font": "Liberation Serif", "fontSize": 18, "fontStyle": "italic", "align": "left", "baseline": "middle", "color": "#111"}, "encoding": {"x": {"datum": 149.3, "type": "quantitative"}, "y": {"datum": 0.185, "type": "quantitative"}}},
        {"data": {"values": [{"k": 1}]}, "mark": {"type": "text", "text": "N", "font": "Liberation Serif", "fontSize": 12, "align": "left", "baseline": "top", "color": "#111", "dx": 12, "dy": 1}, "encoding": {"x": {"datum": 149.3, "type": "quantitative"}, "y": {"datum": 0.185, "type": "quantitative"}}},
        {"data": {"values": [{"k": 1}]}, "mark": {"type": "text", "text": "T", "font": "Liberation Serif", "fontSize": 18, "fontStyle": "italic", "align": "left", "baseline": "middle", "color": "#111"}, "encoding": {"x": {"datum": 153.7, "type": "quantitative"}, "y": {"datum": 0.137, "type": "quantitative"}}},
        {"data": {"values": [{"k": 1}]}, "mark": {"type": "text", "text": "S", "font": "Liberation Serif", "fontSize": 12, "align": "left", "baseline": "top", "color": "#111", "dx": 12, "dy": 1}, "encoding": {"x": {"datum": 153.7, "type": "quantitative"}, "y": {"datum": 0.137, "type": "quantitative"}}}
      ]
     }
    ]
   }
  ]
 }
]
}
